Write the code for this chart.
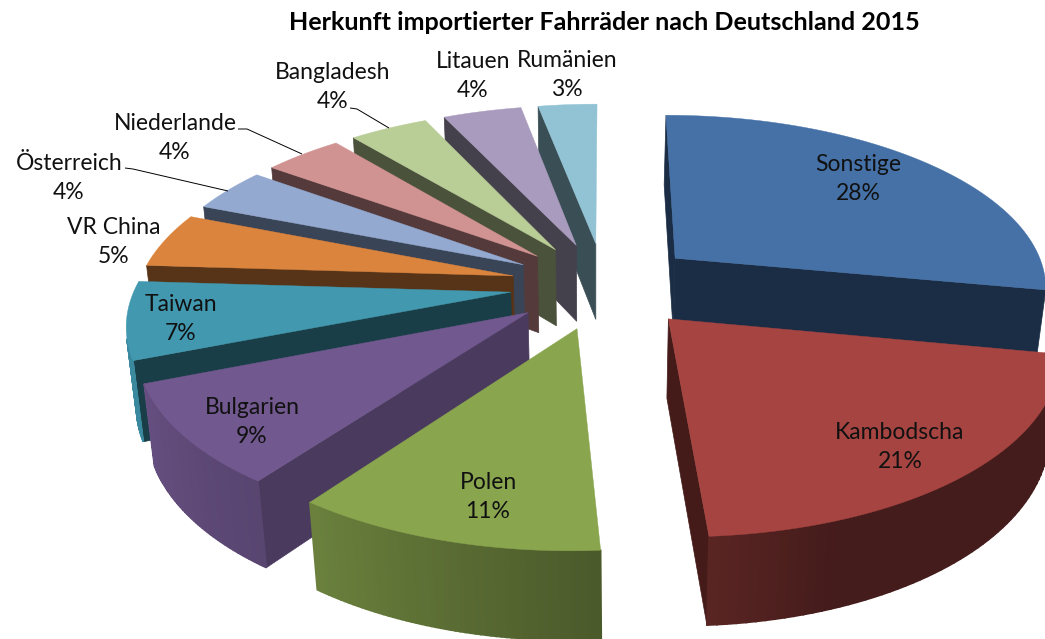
import numpy as np, matplotlib
matplotlib.use("Agg")
import matplotlib.pyplot as plt, seaborn as sns
from matplotlib.colors import to_rgb

TITLE = "Herkunft importierter Fahrräder nach Deutschland 2015"
NAMES = ["Sonstige", "Kambodscha", "Polen", "Bulgarien", "Taiwan", "VR China",
         "Österreich", "Niederlande", "Bangladesh", "Litauen", "Rumänien"]
SHARES = [28, 21, 11, 9, 7, 5, 4, 4, 4, 4, 3]
COLORS = ["#4571A7", "#A64441", "#89A54E", "#71588F", "#4198AF", "#DB843D",
          "#93A9CF", "#D19392", "#B9CD96", "#A99BBD", "#92C3D4"]
WALLS = ["#1B2D45", "#451B19", "#4C5B2B", "#4A3A5E", "#1A3E47", "#573417",
         "#3A4457", "#543A3A", "#4B523C", "#44404C", "#3A4E55"]
LABEL_XY = [(858, 178), (900, 446), (488, 496), (252, 421), (181, 318), (114, 241),
            (69, 177), (175, 137), (333, 86), (473, 75), (567, 74)]
LEADERS = [((238, 129), (247, 129), (302, 154)),
           ((125, 168), (133, 169), (228, 191)),
           ((350, 108), (357, 109), (389, 128))]

# Perspective of the pie's top and bottom planes, and the slice explosion
H_TOP = [374.97028, 93.48944, 604.30987, 0.24745, -128.7844, 285.29303, 0.00114, 0.15442]
H_BOT = [367.28418, 92.00957, 604.21391, 0.99014, -125.44506, 363.06847, 0.00235, 0.15271]
EXPLODE = 0.25155
DRAW_ORDER = [10, 9, 8, 7, 6, 5, 4, 0, 1, 3, 2]

sns.set_theme(style="white")
plt.rcParams["font.family"] = ["Lato", "DejaVu Sans"]
palette = sns.color_palette(COLORS)
walls = sns.color_palette(WALLS)

edges = np.concatenate([[0], np.cumsum(SHARES)]) / sum(SHARES) * 360
mids = (edges[:-1] + edges[1:]) / 2


def plane(i, t, r):
    t = np.radians(t)
    m = np.radians(mids[i])
    return r * np.sin(t) + EXPLODE * np.sin(m), r * np.cos(t) + EXPLODE * np.cos(m)


def proj(h, X, Y):
    w = h[6] * X + h[7] * Y + 1
    return (h[0] * X + h[1] * Y + h[2]) / w, (h[3] * X + h[4] * Y + h[5]) / w


def area(q):
    q = np.array(q)
    return .5 * np.sum(q[:, 0] * np.roll(q[:, 1], -1) - np.roll(q[:, 0], -1) * q[:, 1])


fig = plt.figure(figsize=(10.45, 6.39), dpi=100)
ax = fig.add_axes([0, 0, 1, 1])
ax.set_xlim(0, 1045)
ax.set_ylim(639, 0)
ax.axis("off")

for i in DRAW_ORDER:
    t = np.linspace(edges[i], edges[i + 1], 60)
    X, Y = plane(i, t, 1)
    X0, Y0 = plane(i, 0, 0)
    tx, ty = proj(H_TOP, X, Y)
    bx, by = proj(H_BOT, X, Y)
    t0 = proj(H_TOP, X0, Y0)
    b0 = proj(H_BOT, X0, Y0)
    for j, s in ((0, 1), (-1, -1)):
        q = [t0, (tx[j], ty[j]), (bx[j], by[j]), b0]
        if area(q) * s < -200:
            ax.fill(*zip(*q), color=walls[i], lw=.5)
    for k in range(len(t) - 1):
        q = [(tx[k], ty[k]), (tx[k + 1], ty[k + 1]), (bx[k + 1], by[k + 1]), (bx[k], by[k])]
        if area(q) < 0:
            b = np.interp((t[k] + t[k + 1]) / 2, [160, 176, 216, 250], [.41, .54, .78, .9])
            ax.fill(*zip(*q), color=tuple(np.array(to_rgb(palette[i])) * b), lw=1.2)
    ax.fill(np.r_[t0[0], tx], np.r_[t0[1], ty], color=palette[i], lw=.3)

for pts in LEADERS:
    ax.plot(*zip(*pts), color="black", lw=.7, solid_capstyle="butt")
for name, share, (x, y) in zip(NAMES, SHARES, LABEL_XY):
    ax.text(x, y + 1, f"{name}\n{share}%", ha="center", va="center", fontsize=16.5,
            color="#111111", linespacing=1.5)
ax.text(604, 23, TITLE, ha="center", va="center", fontsize=18.1, fontweight="bold", color="black")
fig.savefig("out.png", dpi=100)
